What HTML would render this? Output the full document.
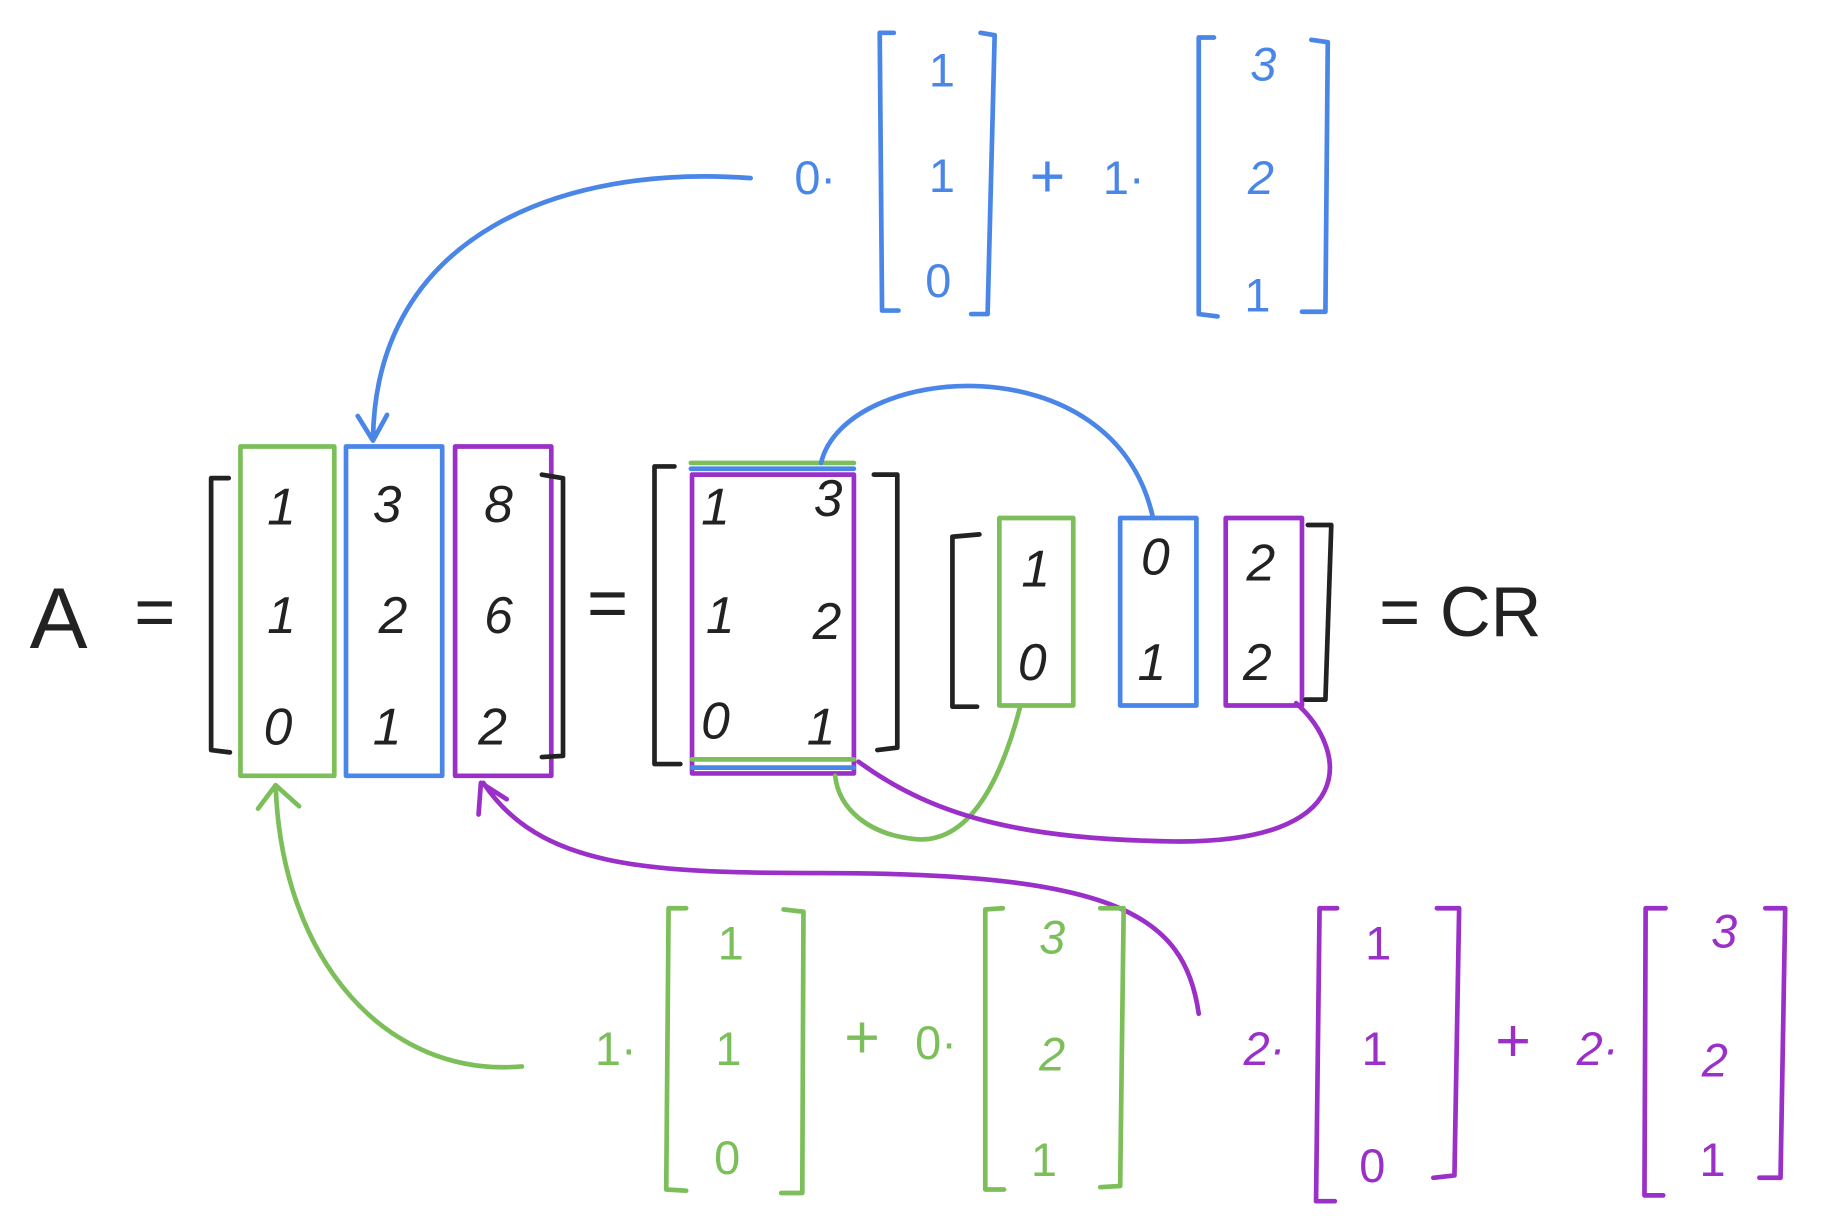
<!DOCTYPE html>
<html><head><meta charset="utf-8"><style>
html,body{margin:0;padding:0;background:#fff;}
svg{display:block}
text{font-family:"Liberation Sans",sans-serif;text-anchor:middle;dominant-baseline:central}
.b{stroke:#4a86e8;fill:none;stroke-width:4;stroke-linecap:round;stroke-linejoin:round}
.g{stroke:#7cbf5a;fill:none;stroke-width:4;stroke-linecap:round;stroke-linejoin:round}
.p{stroke:#9b30c8;fill:none;stroke-width:4;stroke-linecap:round;stroke-linejoin:round}
.k{stroke:#222;fill:none;stroke-width:4;stroke-linecap:round;stroke-linejoin:round}
.tb{fill:#4a86e8}.tg{fill:#7cbf5a}.tp{fill:#9b30c8}.tk{fill:#222}
</style></head><body>
<svg width="1838" height="1227" viewBox="0 0 1567 1047" preserveAspectRatio="none">
<g font-size="40">
<text class="tb" x="695" y="152">0·</text>
<path class="b" d="M762,28 L750,28 L752,265 L766,265"/>
<text class="tb" x="803" y="60">1</text><text class="tb" x="803" y="150">1</text><text class="tb" x="800" y="240">0</text>
<path class="b" d="M836,28 L848,30 L842,268 L828,268"/>
<text class="tb" x="893" y="150" font-size="52">+</text>
<text class="tb" x="958" y="152">1·</text>
<path class="b" d="M1035,32 L1022,32 L1022,268 L1038,270"/>
<text class="tb" x="1077" y="55" font-style="italic">3</text><text class="tb" x="1075" y="152" font-style="italic">2</text><text class="tb" x="1072" y="252">1</text>
<path class="b" d="M1118,34 L1132,36 L1130,266 L1110,266"/>
</g>
<path class="b" d="M640,152 C480,140 320,200 318,375 M305,355 L318,376 L330,354"/>
<text class="tk" x="50" y="528" font-size="74">A</text>
<text class="tk" x="132" y="522" font-size="60">=</text>
<g font-size="44" font-style="italic">
<path class="k" d="M195,408 L180,408 L180,640 L196,642"/>
<rect class="g" x="205" y="381" width="80" height="281"/>
<rect class="b" x="295" y="381" width="82" height="281"/>
<rect class="p" x="388" y="381" width="82" height="281"/>
<path class="k" d="M462,405 L480,408 L480,645 L462,646"/>
<text class="tk" x="240" y="432">1</text><text class="tk" x="240" y="525">1</text><text class="tk" x="237" y="620">0</text>
<text class="tk" x="330" y="430">3</text><text class="tk" x="335" y="525">2</text><text class="tk" x="330" y="620">1</text>
<text class="tk" x="425" y="430">8</text><text class="tk" x="425" y="525">6</text><text class="tk" x="420" y="620">2</text>
</g>
<text class="tk" x="518" y="514" font-size="60">=</text>
<g font-size="44" font-style="italic">
<path class="k" d="M575,398 L558,398 L558,652 L580,652"/>
<line class="g" x1="589" y1="395" x2="728" y2="395"/>
<line class="b" x1="589" y1="400" x2="728" y2="400"/>
<rect class="p" x="590" y="405" width="138" height="255"/>
<line class="g" x1="590" y1="648" x2="728" y2="648"/>
<line class="b" x1="590" y1="655" x2="728" y2="655"/>
<path class="k" d="M745,405 L765,405 L765,638 L748,640"/>
<text class="tk" x="610" y="432">1</text><text class="tk" x="706" y="425">3</text>
<text class="tk" x="614" y="525">1</text><text class="tk" x="705" y="530">2</text>
<text class="tk" x="610" y="615">0</text><text class="tk" x="700" y="620">1</text>
</g>
<g font-size="44" font-style="italic">
<path class="k" d="M835,456 L812,458 L812,603 L833,603"/>
<rect class="g" x="852" y="442" width="63" height="160"/>
<rect class="b" x="955" y="442" width="65" height="160"/>
<rect class="p" x="1045" y="442" width="65" height="160"/>
<path class="k" d="M1115,448 L1135,448 L1130,597 L1113,597"/>
<text class="tk" x="883" y="485">1</text><text class="tk" x="880" y="565">0</text>
<text class="tk" x="985" y="475">0</text><text class="tk" x="982" y="565">1</text>
<text class="tk" x="1075" y="480">2</text><text class="tk" x="1072" y="565">2</text>
</g>
<text class="tk" x="1245" y="522" font-size="60">= CR</text>
<path class="b" d="M700,395 C720,310 950,290 983,442"/>
<path class="g" d="M870,602 C850,680 820,720 780,716 C740,712 715,690 712,662"/>
<path class="p" d="M1105,600 C1150,640 1160,720 1000,718 C880,716 800,700 732,650"/>
<path class="p" d="M1022,865 C1010,780 950,745 700,745 C550,745 460,740 412,668 M408,695 L410,668 L432,682"/>
<path class="g" d="M445,910 C330,920 240,820 235,670 M220,690 L235,670 L255,688"/>
<g font-size="40">
<text class="tg" x="525" y="895">1·</text>
<path class="g" d="M585,775 L570,775 L568,1015 L585,1016"/>
<text class="tg" x="623" y="805">1</text><text class="tg" x="621" y="895">1</text><text class="tg" x="620" y="988">0</text>
<path class="g" d="M668,776 L685,778 L684,1018 L666,1018"/>
<text class="tg" x="735" y="885" font-size="52">+</text>
<text class="tg" x="798" y="890">0·</text>
<path class="g" d="M855,775 L840,776 L840,1015 L856,1015"/>
<text class="tg" x="897" y="800" font-style="italic">3</text><text class="tg" x="897" y="900" font-style="italic">2</text><text class="tg" x="890" y="990">1</text>
<path class="g" d="M938,775 L958,775 L955,1012 L938,1013"/>
</g>
<g font-size="40">
<text class="tp" x="1078" y="895" font-style="italic">2·</text>
<path class="p" d="M1140,775 L1125,775 L1122,1025 L1138,1025"/>
<text class="tp" x="1175" y="805">1</text><text class="tp" x="1172" y="895">1</text><text class="tp" x="1170" y="995">0</text>
<path class="p" d="M1225,775 L1244,775 L1240,1003 L1222,1005"/>
<text class="tp" x="1290" y="888" font-size="52">+</text>
<text class="tp" x="1362" y="895" font-style="italic">2·</text>
<path class="p" d="M1420,775 L1403,775 L1402,1020 L1418,1020"/>
<text class="tp" x="1470" y="795" font-style="italic">3</text><text class="tp" x="1462" y="905" font-style="italic">2</text><text class="tp" x="1460" y="990">1</text>
<path class="p" d="M1505,775 L1522,775 L1518,1005 L1500,1005"/>
</g>
</svg>
</body></html>
